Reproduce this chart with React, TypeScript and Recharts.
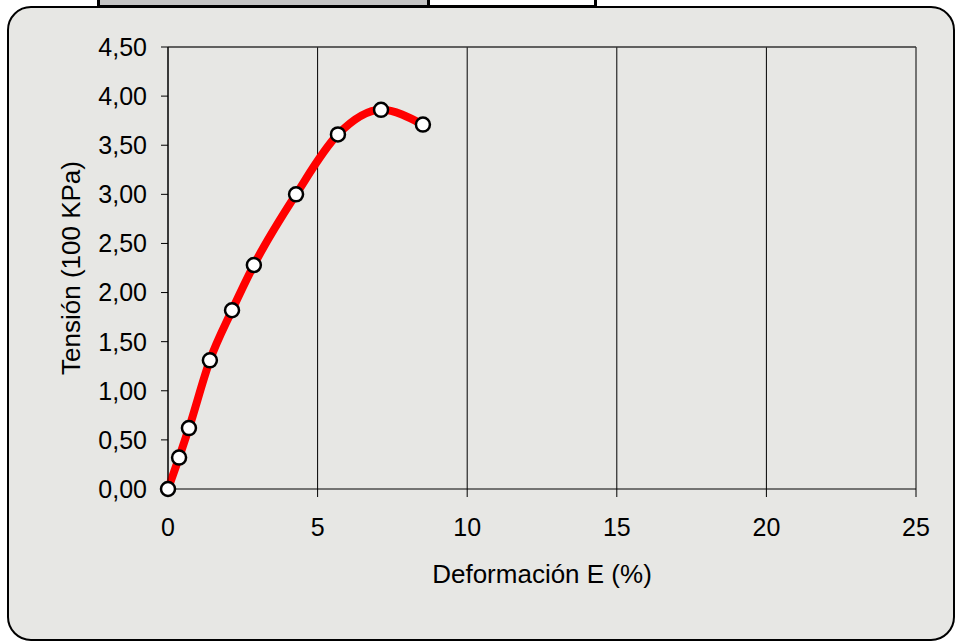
import { LineChart, Line, XAxis, YAxis, CartesianGrid, ReferenceLine } from 'recharts';

// strain (%) and stress (100 kPa)
const deformacion = [0, 0.37, 0.7, 1.4, 2.14, 2.87, 4.28, 5.68, 7.12, 8.52];
const tension = [0, 0.32, 0.62, 1.31, 1.82, 2.28, 3.0, 3.61, 3.86, 3.71];

const xTicks = [0, 5, 10, 15, 20, 25];
const yTicks = [0, 0.5, 1, 1.5, 2, 2.5, 3, 3.5, 4, 4.5];

const data = deformacion.map((x, i) => ({ x, y: tension[i] }));

const fmtComma = (v: number) => v.toFixed(2).replace('.', ',');

export default function App() {
  return (
    <div
      style={{
        position: 'absolute',
        left: 0,
        top: 0,
        width: 955,
        height: 644,
        overflow: 'hidden',
        background: '#ffffff',
        fontFamily: '"Liberation Sans", Arial, sans-serif',
      }}
    >
      {/* rounded panel behind the chart */}
      <div
        style={{
          position: 'absolute',
          left: 7,
          top: 6,
          width: 948,
          height: 635,
          boxSizing: 'border-box',
          border: '2px solid #000',
          borderRadius: 24,
          background: '#e7e7e4',
        }}
      />
      {/* bit of the table above, cut off by the page edge */}
      <div
        style={{
          position: 'absolute',
          left: 97,
          top: -4,
          width: 500,
          height: 12,
          boxSizing: 'border-box',
          border: '3px solid #000',
          display: 'flex',
        }}
      >
        <div style={{ width: 327, background: '#c4c4c4', borderRight: '3px solid #000' }} />
        <div style={{ flex: 1, background: '#fff' }} />
      </div>

      <div style={{ position: 'absolute', left: 0, top: 0 }}>
        <LineChart width={955} height={644} data={data} margin={{ top: 47, right: 39, bottom: 55, left: 0 }}>
          <CartesianGrid horizontal={false} stroke="#000" strokeWidth={1} />
          <ReferenceLine y={4.5} stroke="#333" strokeWidth={1.5} />
          <XAxis
            dataKey="x"
            type="number"
            domain={[0, 25]}
            ticks={xTicks}
            height={100}
            stroke="#000"
            tickSize={8}
            tickMargin={21}
            tick={{ fontSize: 25, fill: '#000' }}
            label={{ value: 'Deformación E (%)', position: 'insideBottom', offset: 6, fontSize: 26, fill: '#000' }}
          />
          <YAxis
            type="number"
            domain={[0, 4.5]}
            ticks={yTicks}
            width={168}
            stroke="#000"
            tickSize={7}
            tickMargin={14}
            tickFormatter={fmtComma}
            tick={{ fontSize: 25, fill: '#000' }}
            label={{
              value: 'Tensión (100 KPa)',
              angle: -90,
              position: 'insideLeft',
              offset: 71,
              fontSize: 26,
              fill: '#000',
              style: { textAnchor: 'middle' },
            }}
          />
          <Line
            type="monotone"
            dataKey="y"
            stroke="#ff0000"
            strokeWidth={8}
            dot={{ r: 7, fill: '#fff', stroke: '#000', strokeWidth: 2.5 }}
            isAnimationActive={false}
          />
        </LineChart>
      </div>
    </div>
  );
}
